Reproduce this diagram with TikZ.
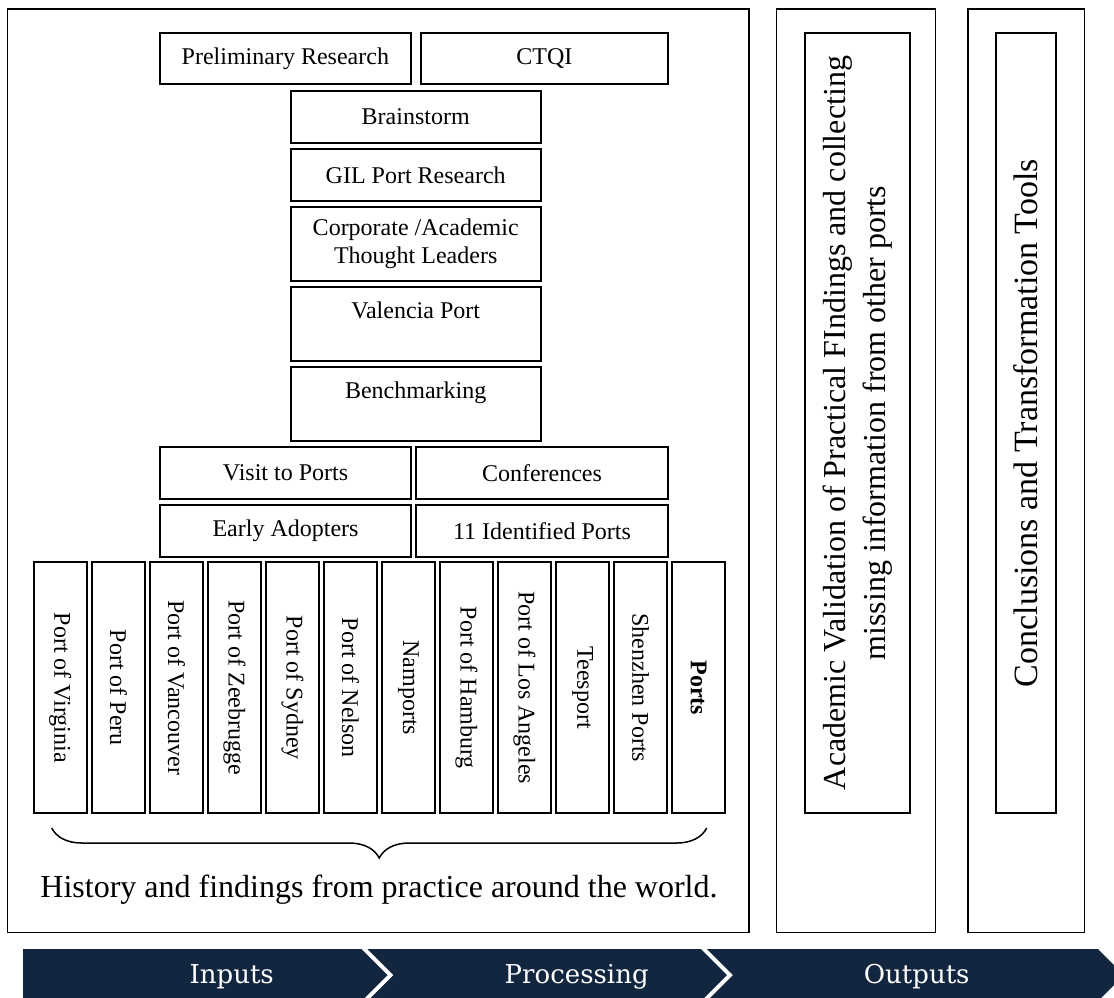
\documentclass[tikz,border=0pt]{standalone}
\usepackage{fontspec}
\setmainfont{Liberation Serif}
\newfontfamily\barfont{DejaVu Serif}
\usetikzlibrary{decorations.pathreplacing}
\definecolor{barnavy}{RGB}{19,38,64}
\begin{document}
\begin{tikzpicture}[x=0.5pt,y=-0.5pt,
  box/.style={draw, line width=1pt, inner sep=0pt, align=center, font=\fontsize{12}{13.8}\selectfont},
  portbox/.style={box, rotate=-90, minimum width=125.5pt, minimum height=26.35pt},
  frame/.style={draw, line width=0.7pt, inner sep=0pt},
  sidebox/.style={draw, line width=1pt, inner sep=0pt, rotate=90, align=center, minimum width=390pt},
  seg/.style={fill=barnavy, draw=none},
  segtext/.style={text=white, font=\barfont\fontsize{13}{15}\selectfont, anchor=base}]
\useasboundingbox (0,0) rectangle (1114,997);
% outer frames
\node[frame, minimum width=370.75pt, minimum height=461.75pt] (f1) at (378.25,470.75) {};
\node[frame, minimum width=79.4pt, minimum height=461.75pt] (f2) at (856.1,470.75) {};
\node[frame, minimum width=58.25pt, minimum height=461.75pt] (f3) at (1026.25,470.75) {};
% top boxes
\node[box, minimum width=125.35pt, minimum height=25.5pt] (prelim) at (285.35,58.5) {Preliminary Research};
\node[box, minimum width=123.65pt, minimum height=25.5pt] (ctqi) at (544.35,58.5) {CTQI};
\node[box, minimum width=125pt, minimum height=25.85pt] (brain) at (415.7,116.85) {Brainstorm};
\node[box, minimum width=125pt, minimum height=25.85pt] (gil) at (415.7,174.85) {GIL Port Research};
\node[box, minimum width=125pt, minimum height=37.15pt] (corp) at (415.7,243.85) {Corporate /Academic\\Thought Leaders};
\node[box, minimum width=125pt, minimum height=36.85pt] (val) at (415.7,324.15) {Valencia Port\\\mbox{}};
\node[box, minimum width=125pt, minimum height=37pt] (bench) at (415.7,403.7) {Benchmarking\\\mbox{}};
\node[box, minimum width=125.5pt, minimum height=26.15pt] (visit) at (285.5,472.85) {Visit to Ports};
\node[box, minimum width=126pt, minimum height=26.15pt] (conf) at (542,472.85) {Conferences};
\node[box, minimum width=125.5pt, minimum height=25.85pt] (early) at (285.5,530.85) {Early Adopters};
\node[box, minimum width=126pt, minimum height=25.85pt] (ident) at (542,530.85) {11 Identified Ports};
% port columns
\foreach \i/\t in {0/Port of Virginia, 1/Port of Peru, 2/Port of Vancouver, 3/Port of Zeebrugge, 4/Port of Sydney, 5/Port of Nelson, 6/Namports, 7/Port of Hamburg, 8/Port of Los Angeles, 9/Teesport, 10/Shenzhen Ports, 11/\textbf{Ports}}
  \node[portbox] (p\i) at ({60.35+58.03*\i},687.8) {\t};
% brace
\coordinate (bl) at (51.7,828);
\coordinate (br) at (706.7,828);
\draw[line width=0.75pt, decorate, decoration={brace, amplitude=15pt, mirror}] (bl) -- (br);
\node[font=\fontsize{16}{19}\selectfont, anchor=base, inner sep=0pt] (hist) at (379,897) {History and findings from practice around the world.};
% side boxes
\node[sidebox, minimum height=52.5pt, font=\fontsize{16}{20}\selectfont] (acad) at (857.5,423) {Academic Validation of Practical FIndings and collecting\\missing information from other ports};
\node[sidebox, minimum height=30pt, font=\fontsize{17}{20}\selectfont] (concl) at (1025.7,423) {Conclusions and Transformation Tools};
% bottom bar
\begin{scope}
\clip (0,0) rectangle (1114,997);
\fill[seg] (23,949) -- (361.5,949) -- (387.5,975) -- (361.5,1001) -- (23,1001) -- cycle;
\fill[seg] (367.5,949) -- (701,949) -- (727,975) -- (701,1001) -- (367.5,1001) -- (393.5,975) -- cycle;
\fill[seg] (707,949) -- (1098,949) -- (1124,975) -- (1098,1001) -- (707,1001) -- (733,975) -- cycle;
\end{scope}
\node[segtext] (tin) at (231.7,983) {Inputs};
\node[segtext] (tproc) at (576.7,983) {Processing};
\node[segtext] (tout) at (916.7,983) {Outputs};
\end{tikzpicture}
\end{document}
